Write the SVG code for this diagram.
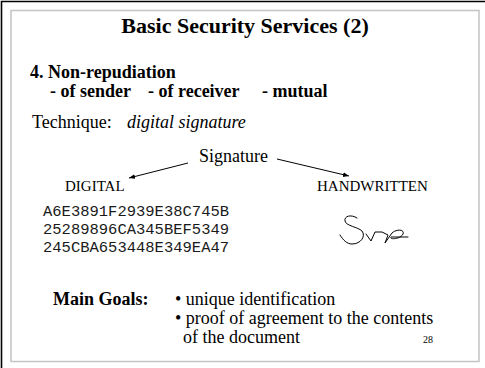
<svg xmlns="http://www.w3.org/2000/svg" width="485" height="368" viewBox="0 0 485 368">
  <style>
    .serif { font-family: "Liberation Serif", "Times New Roman", serif; fill: #000; }
    .bold { font-weight: bold; }
    .italic { font-style: italic; }
    .mono { font-family: "Liberation Mono", "Courier New", monospace; fill: #1a1a1a; font-size: 15.5px; }
    .body { font-size: 18px; }
    .small { font-size: 15px; }
    .conn { stroke: #000; stroke-width: 1; fill: none; marker-end: url(#arrow); }
    .ink { stroke: #000; stroke-width: 1; fill: none; stroke-linejoin: round; stroke-linecap: round; }
  </style>
  <defs>
    <marker id="arrow" viewBox="0 0 10 10" refX="10" refY="5" markerWidth="6" markerHeight="6" orient="auto" markerUnits="userSpaceOnUse">
      <path d="M0,1 L10,5 L0,9 Z" fill="#000"/>
    </marker>
  </defs>

  <!-- page background and frames -->
  <rect x="0" y="0" width="485" height="368" fill="#fff"/>
  <path d="M1.5,368 V1.5 H485" fill="none" stroke="#000" stroke-width="1.6"/>
  <rect x="11" y="10.5" width="468" height="351" fill="none" stroke="#c4c4c4" stroke-width="1.5"/>

  <g id="title">
    <text class="serif bold" x="245" y="33" font-size="22" text-anchor="middle">Basic Security Services (2)</text>
  </g>

  <g id="heading">
    <text class="serif bold body" x="30" y="78">4. Non-repudiation</text>
    <text class="serif bold body" x="50" y="97">- of sender</text>
    <text class="serif bold body" x="148" y="97">- of receiver</text>
    <text class="serif bold body" x="262" y="97">- mutual</text>
  </g>

  <g id="technique">
    <text class="serif body" x="32" y="128">Technique:</text>
    <text class="serif italic body" x="127" y="128">digital signature</text>
  </g>

  <g id="signature">
    <text class="serif body" x="199" y="162">Signature</text>
  </g>

  <g id="digital">
    <text class="serif small" x="65" y="191">DIGITAL</text>
    <text class="mono" x="43" y="216">A6E3891F2939E38C745B</text>
    <text class="mono" x="43" y="234">25289896CA345BEF5349</text>
    <text class="mono" x="43" y="252">245CBA653448E349EA47</text>
  </g>

  <g id="handwritten">
    <text class="serif small" x="317" y="191">HANDWRITTEN</text>
    <!-- pen scribble -->
    <path class="ink" d="M357,218 C351,214 344,216 345,221 C346,226 358,227 362,231 C366,236 361,244 352,244 C347,244 343,240 340,235"/>
    <path class="ink" d="M366,234 L371,241 L375,232 L382,232 L388,235 L385,243 L392,233 C396,229 405,229 403,234 C401,239 389,240 391,237 L408,237"/>
  </g>

  <g id="connectors">
    <line class="conn" x1="188" y1="163" x2="129" y2="178"/>
    <line class="conn" x1="277" y1="159" x2="349" y2="176"/>
  </g>

  <g id="goals">
    <text class="serif bold body" x="53" y="305">Main Goals:</text>
    <text class="serif body" x="175" y="305">• unique identification</text>
    <text class="serif body" x="175" y="324">• proof of agreement to the contents</text>
    <text class="serif body" x="183" y="343">of the document</text>
  </g>

  <g id="page-number">
    <text class="serif" x="423" y="343" font-size="10">28</text>
  </g>
</svg>
